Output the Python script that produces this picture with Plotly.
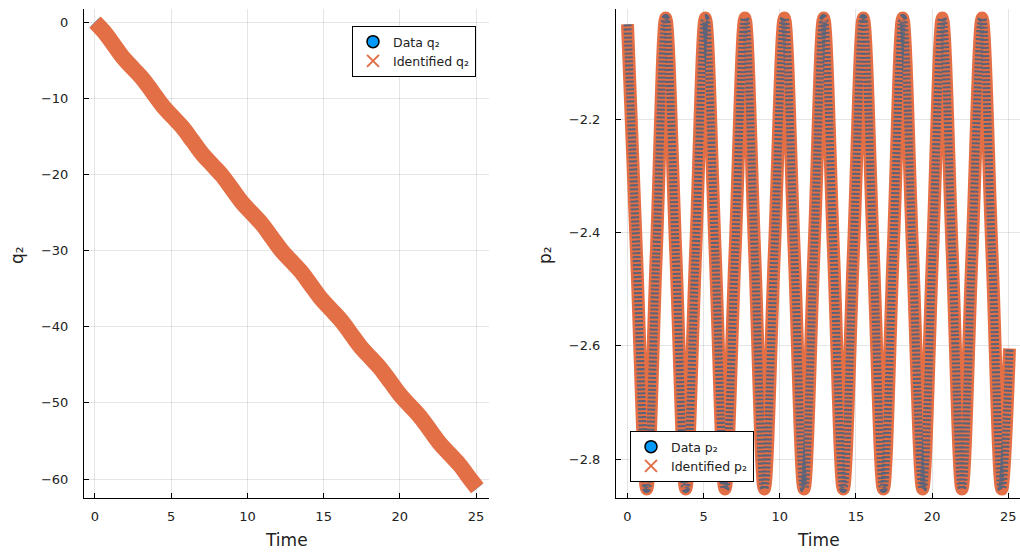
import plotly.graph_objects as go

# ---- data ----
time_pts = [0.00, 0.59, 1.26, 1.89, 2.51, 3.17, 3.82, 4.47, 5.11, 5.76, 6.40, 7.06,
            7.71, 8.35, 8.98, 9.64, 10.30, 10.95, 11.59, 12.24, 12.88, 13.53, 14.17,
            14.83, 15.48, 16.14, 16.80, 17.44, 18.07, 18.72, 19.38, 20.03, 20.67,
            21.32, 21.96, 22.62, 23.28, 23.93, 24.57, 25.08]

q2_data = [0.00, -1.27, -3.07, -4.78, -6.12, -7.56, -9.31, -11.07, -12.46, -13.87,
           -15.60, -17.38, -18.79, -20.18, -21.89, -23.67, -25.11, -26.52, -28.25,
           -30.01, -31.40, -32.81, -34.54, -36.32, -37.73, -39.17, -40.95, -42.68,
           -44.05, -45.46, -47.24, -48.99, -50.38, -51.80, -53.53, -55.31, -56.75,
           -58.16, -59.89, -61.20]
q2_identified = [0.00, -1.27, -3.07, -4.78, -6.12, -7.56, -9.31, -11.07, -12.46, -13.87,
                 -15.60, -17.38, -18.79, -20.18, -21.89, -23.67, -25.11, -26.52, -28.25,
                 -30.01, -31.40, -32.81, -34.54, -36.32, -37.73, -39.17, -40.95, -42.68,
                 -44.05, -45.46, -47.24, -48.99, -50.38, -51.80, -53.53, -55.31, -56.75,
                 -58.16, -59.89, -61.20]

p2_data = [-2.033, -2.437, -2.853, -2.437, -2.022, -2.437, -2.853, -2.437, -2.022, -2.437,
           -2.853, -2.437, -2.022, -2.437, -2.853, -2.437, -2.022, -2.437, -2.853, -2.437,
           -2.022, -2.437, -2.853, -2.437, -2.022, -2.437, -2.853, -2.437, -2.022, -2.437,
           -2.853, -2.437, -2.022, -2.437, -2.853, -2.437, -2.022, -2.437, -2.853, -2.605]
p2_identified = [-2.033, -2.437, -2.853, -2.437, -2.022, -2.437, -2.853, -2.437, -2.022, -2.437,
                 -2.853, -2.437, -2.022, -2.437, -2.853, -2.437, -2.022, -2.437, -2.853, -2.437,
                 -2.022, -2.437, -2.853, -2.437, -2.022, -2.437, -2.853, -2.437, -2.022, -2.437,
                 -2.853, -2.437, -2.022, -2.437, -2.853, -2.437, -2.022, -2.437, -2.853, -2.605]

x_ticks = [0, 5, 10, 15, 20, 25]
q2_ticks = [0, -10, -20, -30, -40, -50, -60]
p2_ticks = [-2.8, -2.6, -2.4, -2.2]

BLUE = "#009AFA"
ORANGE = "#E36F47"
FONT = "DejaVu Sans"

fig = go.Figure()

# left panel: q2
fig.add_trace(go.Scatter(x=time_pts, y=q2_data, mode="lines", line=dict(color=BLUE, width=12, shape="spline"),
                         showlegend=False, xaxis="x", yaxis="y", hoverinfo="skip"))
fig.add_trace(go.Scatter(x=time_pts, y=q2_identified, mode="lines", line=dict(color=ORANGE, width=16, shape="spline"),
                         showlegend=False, xaxis="x", yaxis="y", hoverinfo="skip"))
fig.add_trace(go.Scatter(x=[None], y=[None], mode="markers", name="Data q₂",
                         marker=dict(symbol="circle", size=12, color=BLUE, line=dict(color="black", width=1.5)),
                         xaxis="x", yaxis="y", legend="legend"))
fig.add_trace(go.Scatter(x=[None], y=[None], mode="markers", name="Identified q₂",
                         marker=dict(symbol="x-thin", size=12, color=ORANGE, line=dict(color=ORANGE, width=2)),
                         xaxis="x", yaxis="y", legend="legend"))

# right panel: p2
fig.add_trace(go.Scatter(x=time_pts, y=p2_identified, mode="lines",
                         line=dict(color=ORANGE, width=13, shape="spline"),
                         showlegend=False, xaxis="x2", yaxis="y2", hoverinfo="skip"))
fig.add_trace(go.Scatter(x=time_pts, y=p2_data, mode="lines", opacity=0.7,
                         line=dict(color="#1F5F8F", width=8, shape="spline", dash="2px,2px"),
                         showlegend=False, xaxis="x2", yaxis="y2", hoverinfo="skip"))
fig.add_trace(go.Scatter(x=[None], y=[None], mode="markers", name="Data p₂",
                         marker=dict(symbol="circle", size=12, color=BLUE, line=dict(color="black", width=1.5)),
                         xaxis="x2", yaxis="y2", legend="legend2"))
fig.add_trace(go.Scatter(x=[None], y=[None], mode="markers", name="Identified p₂",
                         marker=dict(symbol="x-thin", size=12, color=ORANGE, line=dict(color=ORANGE, width=2)),
                         xaxis="x2", yaxis="y2", legend="legend2"))

axis_common = dict(showline=True, linecolor="black", linewidth=1, mirror=False,
                   ticks="inside", ticklen=5, tickwidth=1, tickcolor="black",
                   showgrid=True, gridcolor="rgba(0,0,0,0.1)", gridwidth=1, zeroline=False,
                   tickfont=dict(family=FONT, size=13, color="#222"), automargin=False)

ydom = [55 / 553, 544 / 553]
title_font = dict(family=FONT, size=17, color="#222")
fig.update_layout(
    width=1020, height=553, template="none",
    margin=dict(l=0, r=0, t=0, b=0),
    paper_bgcolor="white", plot_bgcolor="white",
    font=dict(family=FONT, color="#222"),
    xaxis=dict(domain=[84 / 1020, 489 / 1020], range=[-0.72, 25.85], tickvals=x_ticks, anchor="y",
               ticklabelstandoff=6, **axis_common),
    yaxis=dict(domain=ydom, range=[-62.49, 1.71], tickvals=q2_ticks, anchor="x",
               ticklabelstandoff=12, **axis_common),
    xaxis2=dict(domain=[616 / 1020, 1.0], range=[-0.755, 25.77], tickvals=x_ticks, anchor="y2",
                ticklabelstandoff=6, **axis_common),
    yaxis2=dict(domain=ydom, range=[-2.8688, -2.0059], tickvals=p2_ticks, tickformat=".1f", anchor="x2",
                ticklabelstandoff=12, **axis_common),
    legend=dict(x=352 / 1020, y=1 - 26 / 553, xanchor="left", yanchor="top",
                bgcolor="white", bordercolor="black", borderwidth=1,
                font=dict(family=FONT, size=12.5, color="#222"), itemwidth=30, tracegroupgap=0),
    legend2=dict(x=630 / 1020, y=1 - 482 / 553, xanchor="left", yanchor="bottom",
                 bgcolor="white", bordercolor="black", borderwidth=1,
                 font=dict(family=FONT, size=12.5, color="#222"), itemwidth=30, tracegroupgap=0),
    annotations=[
        dict(text="Time", x=286.5 / 1020, y=1 - 540 / 553, xref="paper", yref="paper",
             showarrow=False, font=title_font, xanchor="center", yanchor="middle"),
        dict(text="Time", x=818 / 1020, y=1 - 540 / 553, xref="paper", yref="paper",
             showarrow=False, font=title_font, xanchor="center", yanchor="middle"),
        dict(text="q₂", x=17 / 1020, y=1 - 255 / 553, xref="paper", yref="paper", textangle=-90,
             showarrow=False, font=title_font, xanchor="center", yanchor="middle"),
        dict(text="p₂", x=545 / 1020, y=1 - 255 / 553, xref="paper", yref="paper", textangle=-90,
             showarrow=False, font=title_font, xanchor="center", yanchor="middle"),
    ],
)

fig.write_html("out.html")
